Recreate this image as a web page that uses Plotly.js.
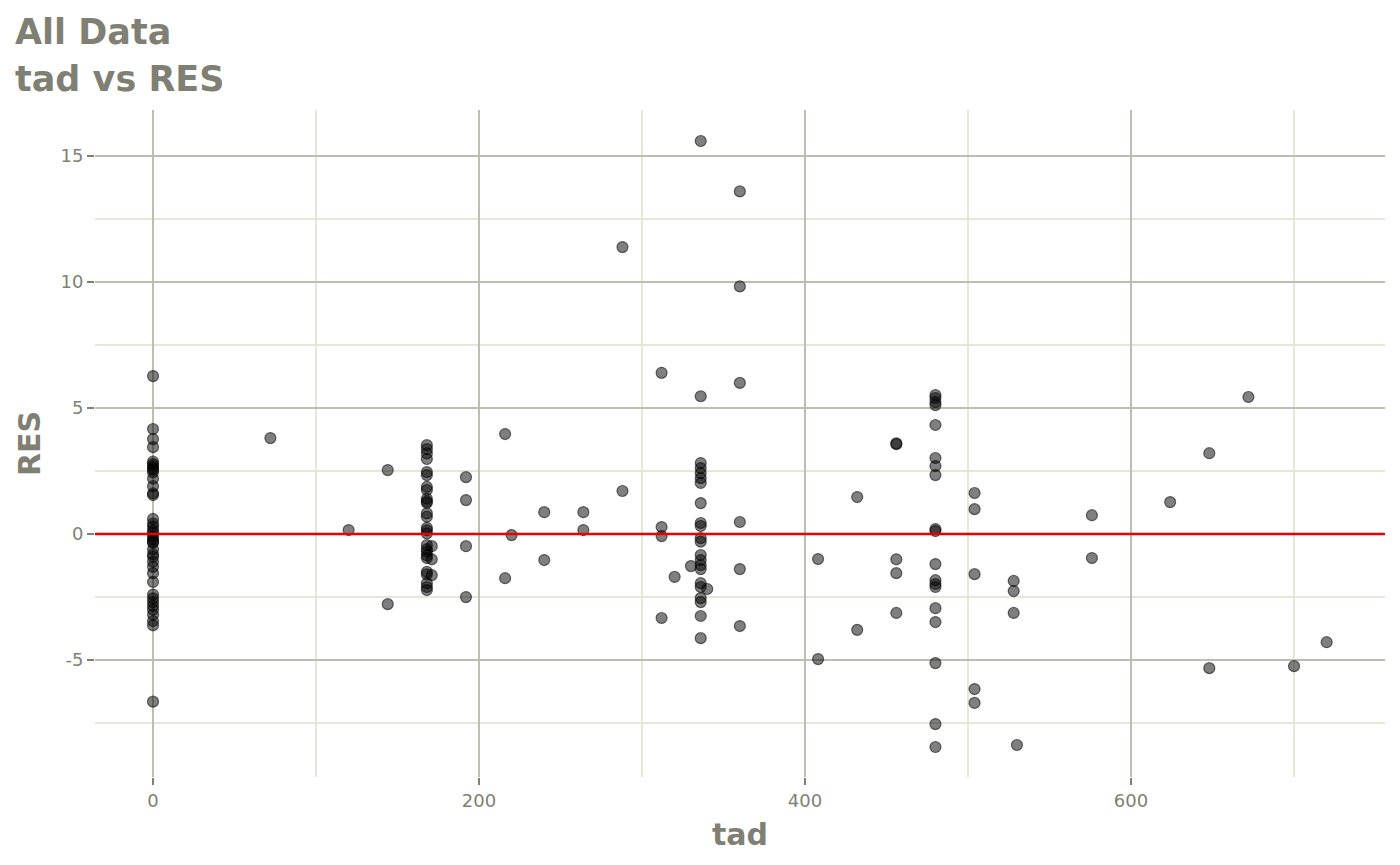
<!DOCTYPE html>
<html>
<head>
<meta charset="utf-8">
<script src="https://cdn.plot.ly/plotly-3.0.1.min.js"></script>
<style>html,body{margin:0;padding:0;background:#fff;}#chart{width:1400px;height:865px;}</style>
</head>
<body>
<div id="chart"></div>
<script>
// tad levels and RES values observed at each level
const tadLevels = [0, 72, 120, 144, 168, 171, 192, 216, 220, 240, 264, 288, 312, 320, 330, 336, 340, 360, 408, 432, 456, 480, 504, 528, 530, 576, 624, 648, 672, 700, 720];
const resAtLevel = [
  [6.27, 4.17, 3.77, 3.45, 2.88, 2.78, 2.7, 2.62, 2.55, 2.45, 2.2, 1.9, 1.62, 1.55, 0.6, 0.42, 0.3, 0.15, 0.05, -0.1, -0.2, -0.3, -0.35, -0.6, -0.8, -0.9, -1.1, -1.3, -1.55, -1.9, -2.4, -2.55, -2.7, -2.85, -3.0, -3.2, -3.45, -3.62, -6.65],
  [3.81],
  [0.16],
  [2.54, -2.78],
  [3.53, 3.37, 3.2, 2.98, 2.46, 2.34, 1.87, 1.75, 1.4, 1.3, 1.24, 0.82, 0.69, 0.25, 0.15, 0.03, -0.44, -0.6, -0.7, -0.85, -0.95, -1.5, -1.6, -1.95, -2.1, -2.22],
  [-0.48, -1.0, -1.63],
  [2.26, 1.35, -0.48, -2.5],
  [3.97, -1.75],
  [-0.04],
  [0.87, -1.03],
  [0.87, 0.16],
  [11.39, 1.71],
  [6.4, 0.28, -0.08, -3.33],
  [-1.7],
  [-1.27],
  [15.6, 5.47, 2.82, 2.62, 2.42, 2.22, 2.03, 1.23, 0.44, 0.32, -0.16, -0.3, -0.83, -1.03, -1.23, -1.39, -1.95, -2.1, -2.54, -2.7, -3.25, -4.13],
  [-2.18],
  [13.6, 9.83, 6.0, 0.48, -1.39, -3.65],
  [-0.99, -4.96],
  [1.47, -3.8],
  [3.57, 3.6, -1.0, -1.55, -3.13],
  [5.52, 5.4, 5.24, 5.12, 4.33, 3.02, 2.7, 2.34, 0.2, 0.12, -1.19, -1.83, -1.98, -2.1, -2.94, -3.49, -5.12, -7.54, -8.45],
  [1.63, 0.99, -1.59, -6.15, -6.7],
  [-1.86, -2.26, -3.13],
  [-8.37],
  [0.75, -0.95],
  [1.27],
  [3.21, -5.32],
  [5.44],
  [-5.24],
  [-4.29]
];
const titleLines = ['All Data', 'tad vs RES'];
const xTickVals = [0, 200, 400, 600];
const yTickVals = [-5, 0, 5, 10, 15];
const referenceLineY = 0;

const tad = [];
const RES = [];
tadLevels.forEach((t, i) => {
  resAtLevel[i].forEach(r => { tad.push(t); RES.push(r); });
});

const grey = '#7f7f73';
const font = 'DejaVu Sans, Verdana, sans-serif';

const trace = {
  type: 'scatter',
  mode: 'markers',
  x: tad,
  y: RES,
  marker: {
    size: 11,
    color: 'rgba(0,0,0,0.5)',
    line: { color: 'rgba(0,0,0,0.55)', width: 1.2 }
  },
  hoverinfo: 'x+y',
  showlegend: false
};

const titleFont = { family: font, size: 35, color: grey, weight: 'bold' };
const layout = {
  width: 1400,
  height: 865,
  paper_bgcolor: '#ffffff',
  plot_bgcolor: '#ffffff',
  margin: { l: 95, r: 15, t: 110, b: 88 },
  annotations: [
    { text: titleLines[0], xref: 'paper', yref: 'paper', x: -82 / 1290, xanchor: 'left', y: 1 + (110 - 32) / 667, yanchor: 'middle', showarrow: false, font: titleFont },
    { text: titleLines[1], xref: 'paper', yref: 'paper', x: -82 / 1290, xanchor: 'left', y: 1 + (110 - 79) / 667, yanchor: 'middle', showarrow: false, font: titleFont }
  ],
  xaxis: {
    range: [-35.6, 755.8],
    tickvals: xTickVals,
    ticktext: xTickVals.map(String),
    showgrid: true, gridcolor: '#bdbdb1', gridwidth: 2,
    minor: { dtick: 100, tick0: 0, showgrid: true, gridcolor: '#e6e6d9', gridwidth: 2, ticks: '' },
    zeroline: false, showline: false,
    ticks: 'outside', ticklen: 7, tickwidth: 2, tickcolor: grey,
    tickfont: { family: font, size: 18, color: grey },
    title: { text: 'tad', font: { family: font, size: 30, color: grey, weight: 'bold' }, standoff: 14 }
  },
  yaxis: {
    range: [-9.64, 16.83],
    tickvals: yTickVals,
    ticktext: yTickVals.map(String),
    showgrid: true, gridcolor: '#bdbdb1', gridwidth: 2,
    minor: { dtick: 2.5, tick0: 0, showgrid: true, gridcolor: '#e6e6d9', gridwidth: 2, ticks: '' },
    zeroline: false, showline: false,
    ticks: 'outside', ticklen: 7, tickwidth: 2, tickcolor: grey,
    tickfont: { family: font, size: 18, color: grey },
    title: { text: 'RES', font: { family: font, size: 30, color: grey, weight: 'bold' }, standoff: 10 }
  },
  shapes: [{
    type: 'line', xref: 'paper', x0: 0, x1: 1, yref: 'y', y0: referenceLineY, y1: referenceLineY,
    line: { color: '#ee0000', width: 2.5 }, layer: 'above'
  }]
};

Plotly.newPlot('chart', [trace], layout, { displayModeBar: false, staticPlot: true });
</script>
</body>
</html>
